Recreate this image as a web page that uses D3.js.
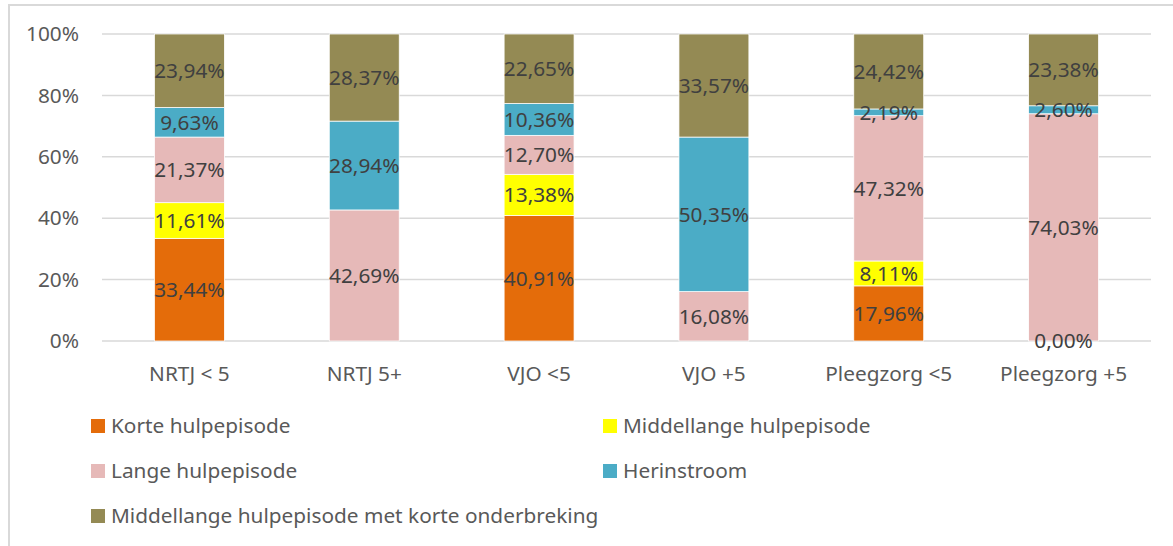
<!DOCTYPE html>
<html>
<head>
<meta charset="utf-8">
<script src="https://cdn.jsdelivr.net/npm/d3@7"></script>
<style>
  body { margin: 0; background: #fff; }
  svg { display: block; font-family: "Noto Sans", "Open Sans", sans-serif; }
</style>
</head>
<body>
<div id="chart"></div>
<script>
// categories and series (percentages, null = no value)
const categories = ["NRTJ < 5", "NRTJ 5+", "VJO <5", "VJO +5", "Pleegzorg <5", "Pleegzorg +5"];
const seriesNames = [
    "Korte hulpepisode",
    "Middellange hulpepisode",
    "Lange hulpepisode",
    "Herinstroom",
    "Middellange hulpepisode met korte onderbreking"
];
const korte      = [33.44, null, 40.91, null, 17.96, 0.00];
const middel     = [11.61, null, 13.38, null, 8.11, null];
const lange      = [21.37, 42.69, 12.70, 16.08, 47.32, 74.03];
const herin      = [9.63, 28.94, 10.36, 50.35, 2.19, 2.60];
const onderbrek  = [23.94, 28.37, 22.65, 33.57, 24.42, 23.38];
const yTicks = [0, 0.2, 0.4, 0.6, 0.8, 1];

const colors = ["#E46C0A", "#FFFF00", "#E6B9B8", "#4BACC6", "#948A54"];
const seriesValues = [korte, middel, lange, herin, onderbrek];

const W = 1173, H = 546;
const margin = { top: 34, right: 22, bottom: 205, left: 102 };
const FS = 20.8;

const svg = d3.select("#chart").append("svg")
    .attr("width", W)
    .attr("height", H);

// outer frame (left + top edges visible)
svg.append("line").attr("x1", 9).attr("x2", 9).attr("y1", 4).attr("y2", H)
    .attr("stroke", "#d9d9d9").attr("stroke-width", 2);
svg.append("line").attr("x1", 9).attr("x2", W).attr("y1", 5).attr("y2", 5)
    .attr("stroke", "#d9d9d9").attr("stroke-width", 2);

const table = categories.map((c, i) => {
    const row = { cat: c };
    seriesNames.forEach((s, j) => { row[s] = seriesValues[j][i] == null ? 0 : seriesValues[j][i]; });
    return row;
});

const stacked = d3.stack()
    .keys(seriesNames)
    .offset(d3.stackOffsetExpand)(table);

const x = d3.scaleBand()
    .domain(categories)
    .range([margin.left, W - margin.right])
    .paddingInner(0.6)
    .paddingOuter(0.3);

const y = d3.scaleLinear()
    .domain([0, 1])
    .range([341, margin.top]);

// gridlines
svg.append("g")
    .selectAll("line")
    .data(yTicks)
    .join("line")
    .attr("x1", margin.left)
    .attr("x2", W - margin.right)
    .attr("y1", d => y(d))
    .attr("y2", d => y(d))
    .attr("stroke", "#d9d9d9")
    .attr("stroke-width", 1.5);

// y axis labels
const yAxis = svg.append("g")
    .attr("transform", `translate(${margin.left},0)`)
    .call(d3.axisLeft(y).tickValues(yTicks).tickFormat(d3.format(".0%")).tickSize(0).tickPadding(23));
yAxis.select(".domain").remove();
yAxis.selectAll("text")
    .attr("font-size", FS)
    .attr("font-family", "Noto Sans, sans-serif")
    .attr("fill", "#595959");

// x axis labels
const xAxis = svg.append("g")
    .attr("transform", `translate(0,341)`)
    .call(d3.axisBottom(x).tickSize(0).tickPadding(25));
xAxis.select(".domain").remove();
xAxis.selectAll("text")
    .attr("font-size", FS)
    .attr("font-family", "Noto Sans, sans-serif")
    .attr("fill", "#595959");

// bars
const layers = svg.append("g")
    .selectAll("g")
    .data(stacked)
    .join("g")
    .attr("fill", (d, i) => colors[i]);

layers.selectAll("rect")
    .data(d => d.map(p => Object.assign(p, { key: d.key })))
    .join("rect")
    .attr("x", d => x(d.data.cat))
    .attr("width", x.bandwidth())
    .attr("y", d => y(d[1]))
    .attr("height", d => y(d[0]) - y(d[1]))
    .attr("stroke", "#fff")
    .attr("stroke-width", 0.75);

// data labels
const fmt = v => v.toFixed(2).replace(".", ",") + "%";
stacked.forEach((layer, j) => {
    svg.append("g")
        .selectAll("text")
        .data(layer.filter((p, i) => seriesValues[j][i] != null))
        .join("text")
        .attr("x", d => x(d.data.cat) + x.bandwidth() / 2)
        .attr("y", d => y((d[0] + d[1]) / 2))
        .attr("dy", "0.36em")
        .attr("text-anchor", "middle")
        .attr("font-size", FS)
        .attr("fill", "#404040")
        .text(d => fmt(d.data[layer.key]));
});

// legend
const legendPos = [
    { x: 91, y: 426 }, { x: 603, y: 426 },
    { x: 91, y: 471 }, { x: 603, y: 471 },
    { x: 91, y: 516 }
];
const legend = svg.append("g")
    .selectAll("g")
    .data(seriesNames)
    .join("g")
    .attr("transform", (d, i) => `translate(${legendPos[i].x},${legendPos[i].y})`);
legend.append("rect")
    .attr("x", 0).attr("y", -7)
    .attr("width", 14).attr("height", 14)
    .attr("fill", (d, i) => colors[i]);
legend.append("text")
    .attr("x", 20)
    .attr("dy", "0.35em")
    .attr("font-size", FS)
    .attr("fill", "#595959")
    .text(d => d);
</script>
</body>
</html>
